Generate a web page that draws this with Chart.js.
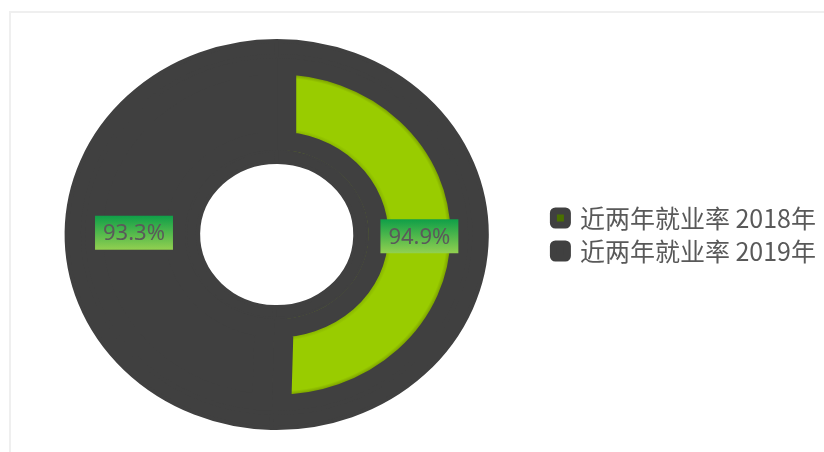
<!DOCTYPE html>
<html>
<head>
<meta charset="utf-8">
<script src="https://cdn.jsdelivr.net/npm/chart.js@4.4.0/dist/chart.umd.min.js"></script>
<style>
  html, body { margin: 0; padding: 0; background: #fff; }
  #wrap { position: relative; width: 824px; height: 452px; overflow: hidden; }
  #frame { position: absolute; left: 9px; top: 11px; width: 900px; height: 500px;
           border-left: 2px solid #efefef; border-top: 2px solid #efefef; }
  #chart-rate { position: absolute; left: 0; top: 0; }
</style>
</head>
<body>
<div id="wrap">
  <div id="frame"></div>
  <canvas id="chart-rate" width="824" height="452"></canvas>
</div>
<script>
    // ─── Data ───────────────────────────────────────────────────────────
    const labels = ['近两年就业率 2018年', '近两年就业率 2019年'];
    const rates = [94.9, 93.3];

    const DARK = '#404040';
    const GREEN = '#99cc00';
    const legendFill = ['#4a7000', DARK];
    const STRETCH_X = 1.085;   // the reference ring is a bit wider than tall
    const INSET = 18;          // dark band round the green arc

    // green with a soft darker rim, like the bevel in the reference
    function greenFill(c) {
        if (c.dataIndex !== 0) return DARK;
        const chart = c.chart, ca = chart.chartArea;
        const ctrl = chart.getDatasetMeta(1).controller;
        if (!ca || !ctrl.outerRadius) return GREEN;
        const cx = (ca.left + ca.right) / 2, cy = (ca.top + ca.bottom) / 2;
        const r0 = ctrl.innerRadius + INSET, r1 = ctrl.outerRadius - INSET;
        const g = chart.ctx.createRadialGradient(cx, cy, r0, cx, cy, r1);
        g.addColorStop(0, '#86b300');
        g.addColorStop(0.07, '#99cc00');
        g.addColorStop(0.93, '#99cc00');
        g.addColorStop(1, '#7a9f00');
        return g;
    }

    const stretchPlugin = {
        id: 'stretch',
        beforeDatasetsDraw(chart) {
            const arc = chart.getDatasetMeta(0).data[0];
            const ctx = chart.ctx;
            ctx.save();
            ctx.translate(arc.x, arc.y);
            ctx.scale(STRETCH_X, 1);
            ctx.translate(-arc.x, -arc.y);
        },
        afterDatasetsDraw(chart) {
            chart.ctx.restore();
        }
    };

    // green boxed percentage labels on the middle ring
    const rateLabels = {
        id: 'rateLabels',
        afterDraw(chart) {
            const ctx = chart.ctx;
            const meta = chart.getDatasetMeta(1);
            ctx.save();
            ctx.font = "22px 'Noto Sans', sans-serif";
            ctx.textAlign = 'center';
            ctx.textBaseline = 'middle';
            meta.data.forEach((arc, i) => {
                const p = arc.tooltipPosition();
                const x = arc.x + (p.x - arc.x) * STRETCH_X;
                const y = p.y;
                const text = rates[i].toFixed(1) + '%';
                const w = ctx.measureText(text).width + 16, h = 34;
                const g = ctx.createLinearGradient(0, y - h / 2, 0, y + h / 2);
                g.addColorStop(0, '#0f9f48');
                g.addColorStop(1, '#92d050');
                ctx.fillStyle = g;
                ctx.fillRect(x - w / 2, y - h / 2, w, h);
                ctx.fillStyle = '#5a5a5a';
                ctx.fillText(text, x, y + 1);
            });
            ctx.restore();
        }
    };

    new Chart(document.getElementById('chart-rate'), {
        type: 'doughnut',
        data: {
            labels: labels,
            datasets: [
                { data: rates, backgroundColor: DARK, borderColor: DARK, borderWidth: 4, weight: 15, clip: false },
                { data: rates, backgroundColor: greenFill, borderColor: DARK, borderWidth: INSET,
                  borderAlign: 'inner', weight: 94, clip: false },
                { data: rates, backgroundColor: DARK, borderColor: DARK, borderWidth: 4, weight: 12, clip: false }
            ]
        },
        options: {
            responsive: false,
            animation: false,
            cutout: '37.5%',
            radius: 193.5,
            layout: { padding: { left: 8, right: -2, top: 41, bottom: 24 } },
            plugins: {
                tooltip: { enabled: false },
                legend: {
                    position: 'right',
                    labels: {
                        boxWidth: 14, boxHeight: 14, padding: 8,
                        useBorderRadius: true, borderRadius: 2,
                        color: '#595959',
                        font: { family: "'Noto Sans CJK SC', 'Noto Sans', sans-serif", size: 25 },
                        generateLabels: () => labels.map((text, i) => ({
                            text, index: i, hidden: false,
                            fillStyle: legendFill[i], strokeStyle: DARK, lineWidth: 7,
                            borderRadius: 2, fontColor: '#595959'
                        }))
                    }
                }
            }
        },
        plugins: [stretchPlugin, rateLabels]
    });
</script>
</body>
</html>
